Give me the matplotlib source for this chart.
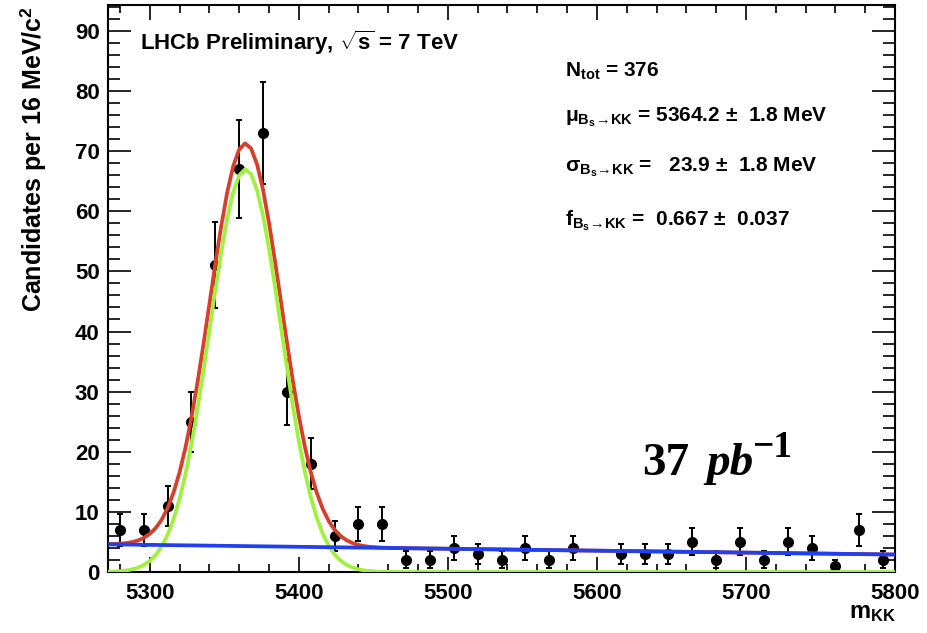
import matplotlib
matplotlib.use("Agg")
import matplotlib.pyplot as plt
import numpy as np
from matplotlib.ticker import MultipleLocator

plt.rcParams["font.family"] = ["Liberation Sans", "DejaVu Sans"]
plt.rcParams["font.weight"] = "bold"
plt.rcParams["mathtext.fontset"] = "custom"
plt.rcParams["mathtext.rm"] = "Liberation Sans:bold"
plt.rcParams["mathtext.bf"] = "Liberation Serif:bold"
plt.rcParams["mathtext.it"] = "Liberation Serif:bold:italic"
plt.rcParams["mathtext.sf"] = "Liberation Sans"

# binned data: 16 MeV bins from 5272 to 5800
bin_centres = [5280, 5296, 5312, 5328, 5344, 5360, 5376, 5392, 5408, 5424, 5440,
               5456, 5472, 5488, 5504, 5520, 5536, 5552, 5568, 5584, 5600, 5616,
               5632, 5648, 5664, 5680, 5696, 5712, 5728, 5744, 5760, 5776, 5792]
counts = [7, 7, 11, 25, 51, 67, 73, 30, 18, 6, 8,
          8, 2, 2, 4, 3, 2, 4, 2, 4, 0, 3,
          3, 3, 5, 2, 5, 2, 5, 4, 1, 7, 2]

# fit curves
curve_x = [5272, 5276, 5280, 5284, 5288, 5292, 5296, 5300, 5304, 5308, 5312,
           5316, 5320, 5324, 5328, 5332, 5336, 5340, 5344, 5348, 5352, 5356,
           5360, 5364, 5368, 5372, 5376, 5380, 5384, 5388, 5392, 5396, 5400,
           5404, 5408, 5412, 5416, 5420, 5424, 5428, 5432, 5436, 5440, 5444,
           5448, 5452, 5456, 5460, 5470, 5800]
signal = [0.04, 0.07, 0.14, 0.24, 0.42, 0.70, 1.14, 1.82, 2.81, 4.22, 6.17,
          8.77, 12.12, 16.28, 21.28, 27.03, 33.40, 40.13, 46.88, 53.25, 58.82, 63.17,
          65.98, 67.0, 66.16, 63.52, 59.32, 53.85, 47.54, 40.81, 34.06, 27.64, 21.82,
          16.74, 12.49, 9.07, 6.40, 4.39, 2.93, 1.90, 1.20, 0.74, 0.44, 0.25,
          0.14, 0.08, 0.04, 0.02, 0.0, 0.0]
total = [4.64, 4.66, 4.71, 4.80, 4.96, 5.23, 5.67, 6.33, 7.31, 8.70, 10.64,
         13.23, 16.57, 20.71, 25.70, 31.44, 37.79, 44.51, 51.25, 57.61, 63.16, 67.50,
         70.30, 71.30, 70.45, 67.80, 63.59, 58.10, 51.78, 45.04, 38.27, 31.84, 26.01,
         20.92, 16.65, 13.22, 10.54, 8.51, 7.04, 6.00, 5.29, 4.81, 4.50, 4.30,
         4.18, 4.10, 4.05, 4.02, 3.96, 2.90]
bkg_x = [5272, 5800]
bkg = [4.6, 2.9]

fig = plt.figure(figsize=(9.27, 6.33), dpi=100)
ax = fig.add_axes([0.1165, 0.0964, 0.849, 0.8956])

x = np.array(bin_centres, dtype=float)
n = np.array(counts, dtype=float)
keep = n > 0
ax.errorbar(x[keep], n[keep], yerr=np.sqrt(n[keep]), fmt="o", color="black",
            markersize=7, elinewidth=1.4, capsize=2.5, capthick=1.4, zorder=2)

ax.plot(curve_x, total, color="#d6402a", lw=2.7, zorder=3)
ax.plot(curve_x, signal, color="#9ff03f", lw=2.7, zorder=4)
ax.plot(bkg_x, bkg, color="#1f3ff0", lw=2.7, zorder=5)

ax.set_xlim(5272, 5800)
ax.set_ylim(0, 94.3)
ax.xaxis.set_major_locator(MultipleLocator(100))
ax.xaxis.set_minor_locator(MultipleLocator(20))
ax.yaxis.set_major_locator(MultipleLocator(10))
ax.yaxis.set_minor_locator(MultipleLocator(2))
ax.tick_params(axis="both", which="both", direction="in", top=True, right=True,
               width=1.2, labelsize=16, colors="black")
ax.tick_params(axis="x", which="major", length=11, pad=8)
ax.tick_params(axis="x", which="minor", length=6)
ax.tick_params(axis="y", which="major", length=16.5, pad=6)
ax.tick_params(axis="y", which="minor", length=8.5)
for label in ax.get_xticklabels() + ax.get_yticklabels():
    label.set_fontweight("bold")
for spine in ax.spines.values():
    spine.set_linewidth(1.5)

fig.text(0.036, 0.99, r"Candidates per 16 MeV/c$^{\mathrm{2}}$", rotation=90,
         ha="center", va="top", fontsize=18, fontweight="bold")
fig.text(0.941, 0.033, r"m$_{\mathrm{KK}}$", ha="center", va="center",
         fontsize=17, fontweight="bold")

ax.text(0.041, 0.933, r"LHCb Preliminary, $\mathrm{\sqrt{s}}$ = 7 TeV",
        transform=ax.transAxes, ha="left", va="center", fontsize=16, fontweight="bold")

box = [
    (0.885, r"N$_{\mathrm{tot}}$ = 376"),
    (0.802, r"μ$_{\mathrm{B_s\!\rightarrow\! KK}}$ = 5364.2 ±  1.8 MeV"),
    (0.713, r"σ$_{\mathrm{B_s\!\rightarrow\! KK}}$ =   23.9 ±  1.8 MeV"),
    (0.619, r"f$_{\mathrm{B_s\!\rightarrow\! KK}}$ =  0.667 ±  0.037"),
]
for ypos, txt in box:
    ax.text(0.581, ypos, txt, transform=ax.transAxes, ha="left", va="center",
            fontsize=15, fontweight="bold")

# luminosity label, built from pieces
serif = ["Liberation Serif", "DejaVu Serif"]
fig.text(642 / 927, 1 - 475 / 633, "37", family=serif, fontweight="bold",
         fontsize=34, ha="left", va="baseline")
fig.text(706 / 927, 1 - 475 / 633, "pb", family=serif, fontweight="bold",
         style="italic", fontsize=34, ha="left", va="baseline")
fig.text(752 / 927, 1 - 457 / 633, "\u22121", family=serif, fontweight="bold",
         fontsize=27, ha="left", va="baseline")

fig.savefig("out.png", dpi=100)
